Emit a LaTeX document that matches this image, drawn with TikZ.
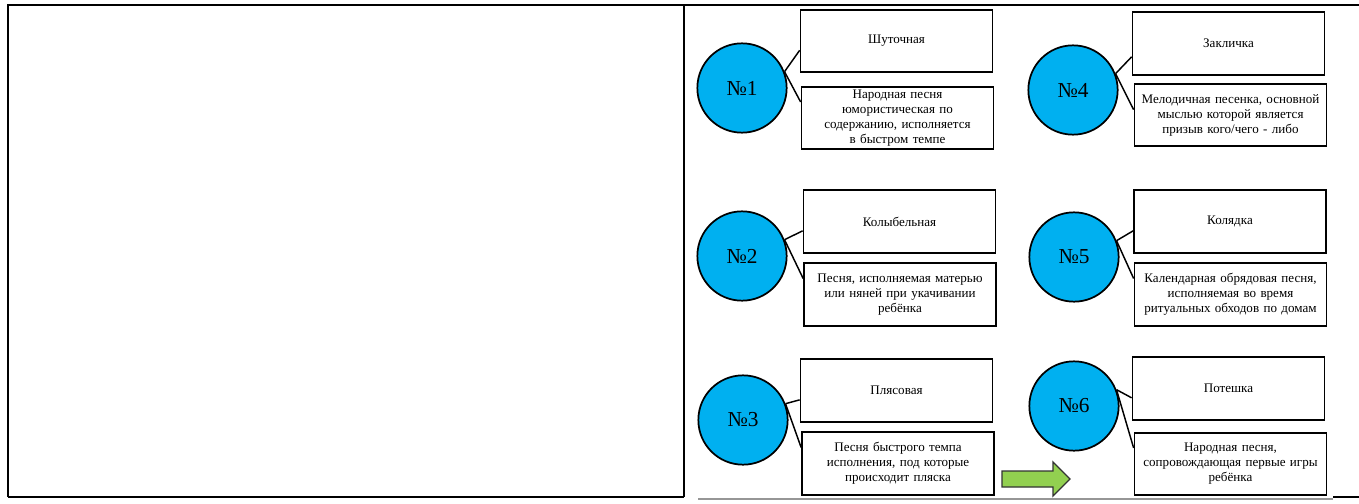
\documentclass[tikz,border=0pt]{standalone}
\usepackage{fontspec}
\setmainfont{Liberation Serif}
\usepackage{tikz}

\definecolor{numblue}{RGB}{0,176,240}
\definecolor{arrowgreen}{RGB}{146,208,80}
\definecolor{rulegray}{RGB}{150,150,150}

\begin{document}
\begin{tikzpicture}[x=0.75pt, y=-0.75pt,
  num/.style={draw, circle, line width=1.3pt, fill=numblue, minimum size=67pt, inner sep=0pt, font=\fontsize{16}{18}\selectfont},
  kind/.style={draw, line width=1.3pt, minimum width=144pt, minimum height=47pt, inner sep=1pt, font=\fontsize{9.8}{11.3}\selectfont},
  info/.style={kind, align=center, text width=140pt},
  tie/.style={line width=1.1pt},
  rule/.style={line width=2pt}]
\useasboundingbox (0,0) rectangle (1359,503);
% table
\draw[rule] (8,497) -- (8,5) -- (697,5);
\draw[line width=1.2pt] (697,5) -- (1333,5);
\draw[rule] (1333,5) -- (1359,5);
\draw[rule] (684,5) -- (684,497);
\draw[rule] (8,497) -- (684,497);
\draw[line width=1.2pt, rulegray] (698,499) -- (1333,499);
\draw[rule] (1333,497) -- (1359,497);
% left column
\node[num] (n1) at (742,88) {№1};
\node[kind] (k1) at (896.5,41) {Шуточная};
\node[info] (d1) at (897.5,118) {Народная песня\\юмористическая по\\содержанию, исполняется\\в быстром темпе};
\draw[tie] (n1.21) -- ([yshift=-7pt]k1.west);
\draw[tie] (n1.21) -- ([yshift=12pt]d1.west);

\node[num] (n2) at (742,256) {№2};
\node[kind] (k2) at (899.5,221.5) {Колыбельная};
\node[info] (d2) at (900,294.5) {Песня, исполняемая матерью\\или няней при укачивании\\ребёнка};
\draw[tie] (n2.21) -- ([yshift=-7pt]k2.west);
\draw[tie] (n2.21) -- ([yshift=12pt]d2.west);

\node[num] (n3) at (743,420) {№3};
\node[kind] (k3) at (896.5,390.5) {Плясовая};
\node[info] (d3) at (898,463.5) {Песня быстрого темпа\\исполнения, под которые\\происходит пляска};
\draw[tie] (n3.21) -- ([yshift=-7pt]k3.west);
\draw[tie] (n3.21) -- ([yshift=12pt]d3.west);
% right column
\node[num] (n4) at (1073,90) {№4};
\node[kind] (k4) at (1228.5,43.5) {Закличка};
\node[info] (d4) at (1230.5,115) {Мелодичная песенка, основной\\мыслью которой является\\призыв кого/чего - либо};
\draw[tie] (n4.21) -- ([yshift=-10pt]k4.west);
\draw[tie] (n4.21) -- ([yshift=4pt]d4.west);

\node[num] (n5) at (1074,257) {№5};
\node[kind] (k5) at (1230,221.5) {Колядка};
\node[info] (d5) at (1230.5,294.5) {Календарная обрядовая песня,\\исполняемая во время\\ритуальных обходов по домам};
\draw[tie] (n5.21) -- ([yshift=-7pt]k5.west);
\draw[tie] (n5.21) -- ([yshift=12pt]d5.west);

\node[num] (n6) at (1074,406) {№6};
\node[kind] (k6) at (1228.5,388.5) {Потешка};
\node[info] (d6) at (1230.5,464) {Народная песня,\\сопровождающая  первые игры\\ребёнка};
\draw[tie] (n6.21) -- ([yshift=-7pt]k6.west);
\draw[tie] (n6.21) -- ([yshift=12pt]d6.west);
% arrow
\draw[line width=1pt, fill=arrowgreen, draw=black!80] (1002,471) -- (1053,471) -- (1053,462) -- (1070,479) -- (1053,496) -- (1053,487) -- (1002,487) -- cycle;
\end{tikzpicture}
\end{document}
